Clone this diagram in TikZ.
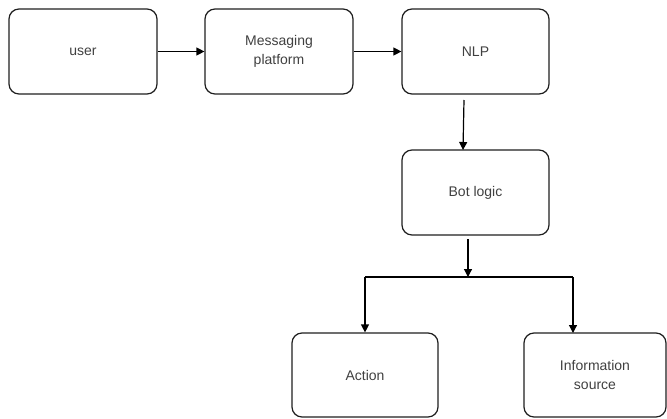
\documentclass[tikz,border=0pt]{standalone}
\usepackage{fontspec}
\setmainfont{Liberation Sans}
\usetikzlibrary{arrows.meta}
\definecolor{labelgray}{RGB}{64,64,64}
\definecolor{edgegray}{RGB}{30,30,30}
\begin{document}
\begin{tikzpicture}[x=1pt,y=-1pt,
  box/.style={draw=edgegray, line width=1.2pt, rounded corners=10pt,
    minimum width=#1, minimum height=85pt, inner sep=0pt,
    text=labelgray, align=center,
    font=\fontsize{14}{19}\selectfont},
  box/.default=148pt,
  flow/.style={draw=black, line width=1.2pt,
    -{Triangle[length=8pt,width=8pt]}},
  link/.style={draw=black, line width=1.2pt}]
\useasboundingbox (0,0) rectangle (667,418);

% top row
\node[box] (user) at (83,51.5) {user};
\node[box] (msg) at (279,51.5) {Messaging\\platform};
\node[box=147pt] (nlp) at (475.5,51.5) {NLP};
% middle
\node[box=147pt] (bot) at (475.5,192.5) {Bot logic};
% bottom row
\node[box=146pt, minimum height=84pt] (act) at (365,375) {Action};
\node[box=142pt, minimum height=84pt] (info) at (595,375) {Information\\source};

% connectors
\draw[flow] (user.east) -- (msg.west);
\draw[flow] (msg.east) -- (nlp.west);

\coordinate (nlpout) at (464,100);
\coordinate (botin) at (463,150);
\draw[flow] (nlpout) -- (botin);

\coordinate (split) at (468,277);
\coordinate (botout) at (468,239);
\coordinate (infoin) at (573,333);
\draw[flow] (botout) -- (split);
\draw[link] (act.north |- split) -- (infoin |- split);
\draw[flow] (act.north |- split) -- (act.north);
\draw[flow] (infoin |- split) -- (infoin);
\end{tikzpicture}
\end{document}
